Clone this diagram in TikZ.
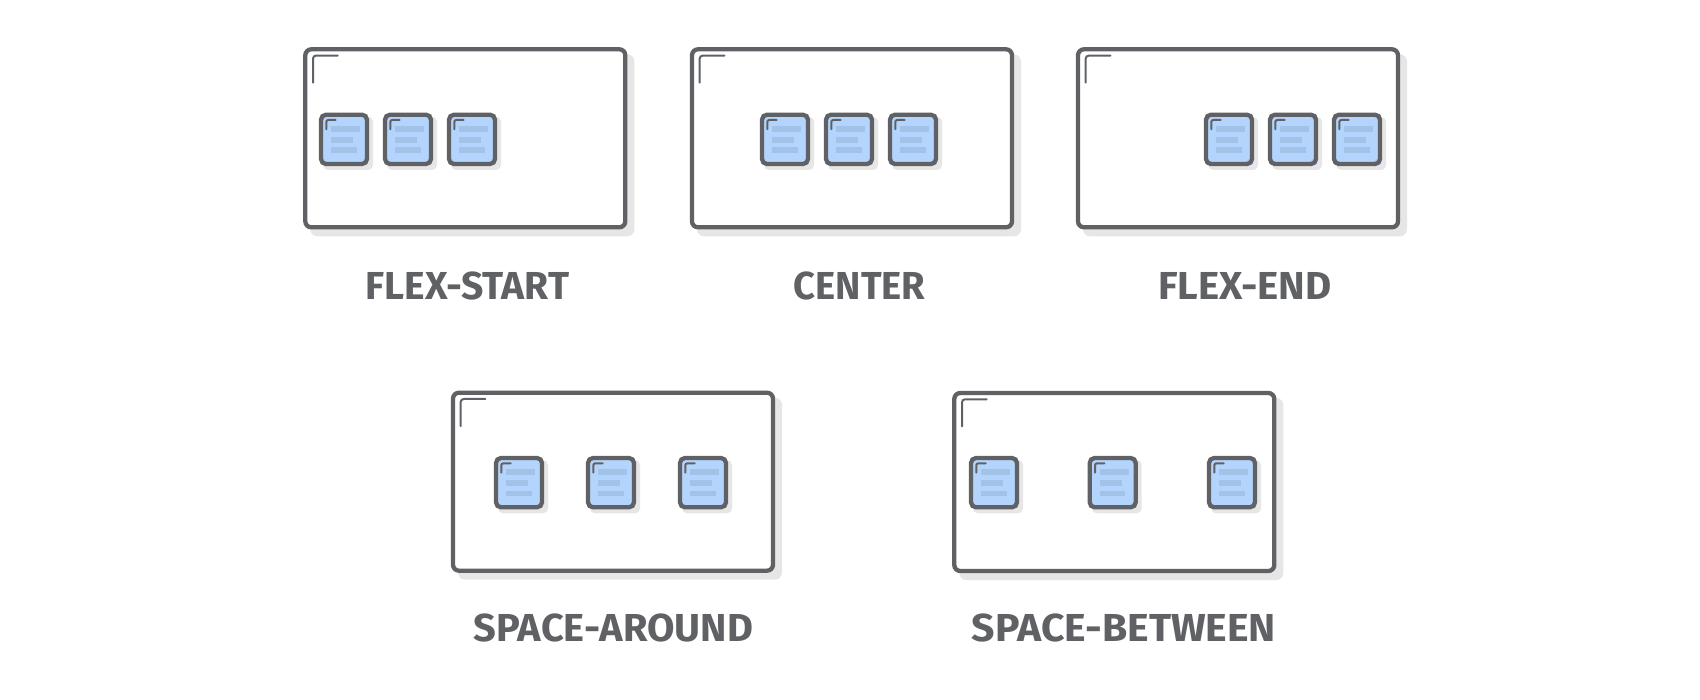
\documentclass[tikz,border=0pt]{standalone}
\usepackage{fontspec}
\setmainfont{Fira Sans}
\definecolor{ink}{HTML}{5F6164}
\definecolor{shadowgray}{HTML}{E6E6E6}
\definecolor{boxfill}{HTML}{B3D4FC}
\definecolor{boxline}{HTML}{A3C2E8}
\newcommand\mycont[2]{%
  \fill[shadowgray, rounded corners=7] (#1+7,#2+7) rectangle ++(324,182);
  \draw[contline, fill=white] (#1+2,#2+2) rectangle ++(320,178);
  \draw[cornermark, rounded corners=3] (#1+9.7,#2+35.4) -- (#1+9.7,#2+8.3) -- (#1+34.4,#2+8.3);
}
\newcommand\mybox[2]{%
  \fill[shadowgray, rounded corners=5] (#1+4,#2+4) rectangle ++(50,53.3);
  \draw[boxedge] (#1+2,#2+2) rectangle ++(46,49.3);
  \fill[boxline] (#1+12,#2+13.3) rectangle (#1+41,#2+19);
  \fill[boxline] (#1+12,#2+24.3) rectangle (#1+34.3,#2+30);
  \fill[boxline] (#1+12,#2+34.6) rectangle (#1+37.7,#2+40.3);
  \draw[cornermark, rounded corners=2] (#1+7.3,#2+16.6) -- (#1+7.3,#2+7.3) -- (#1+16.7,#2+7.3);
}
\tikzset{
  contline/.style={draw=ink, line width=4.3, rounded corners=6},
  boxedge/.style={draw=ink, line width=4.3, fill=boxfill, rounded corners=5},
  cornermark/.style={draw=ink, line width=2, line cap=round},
  lbl/.style={text=ink, inner sep=0, anchor=base, font=\bfseries\fontsize{39}{44}\selectfont}
}
\begin{document}
\begin{tikzpicture}[x=1pt, y=-1pt]
\useasboundingbox (0,0) rectangle (1700,700);
% row 1
\mycont{303.3}{47.3}
\mybox{319}{112.7}\mybox{383}{112.7}\mybox{447}{112.7}
\mycont{690}{47.3}
\mybox{760}{112.7}\mybox{824}{112.7}\mybox{888}{112.7}
\mycont{1076}{47.3}
\mybox{1204}{112.7}\mybox{1268}{112.7}\mybox{1332}{112.7}
% row 2
\mycont{451}{390.7}
\mybox{494}{456}\mybox{586}{456}\mybox{678}{456}
\mycont{952.3}{391}
\mybox{969}{456}\mybox{1087.7}{456}\mybox{1207}{456}
% labels
\node[lbl] (l1) at (467.5,299.3) {FLEX-START};
\node[lbl] (l2) at (859.5,299.3) {\scalebox{0.98}[1]{CENTER}};
\node[lbl] (l3) at (1245,299.3) {\scalebox{1.03}[1]{FLEX-END}};
\node[lbl] (l4) at (613.3,641.7) {\scalebox{1.02}[1]{SPACE-AROUND}};
\node[lbl] (l5) at (1124,641.7) {\scalebox{1.05}[1]{SPACE-BETWEEN}};
\end{tikzpicture}
\end{document}
